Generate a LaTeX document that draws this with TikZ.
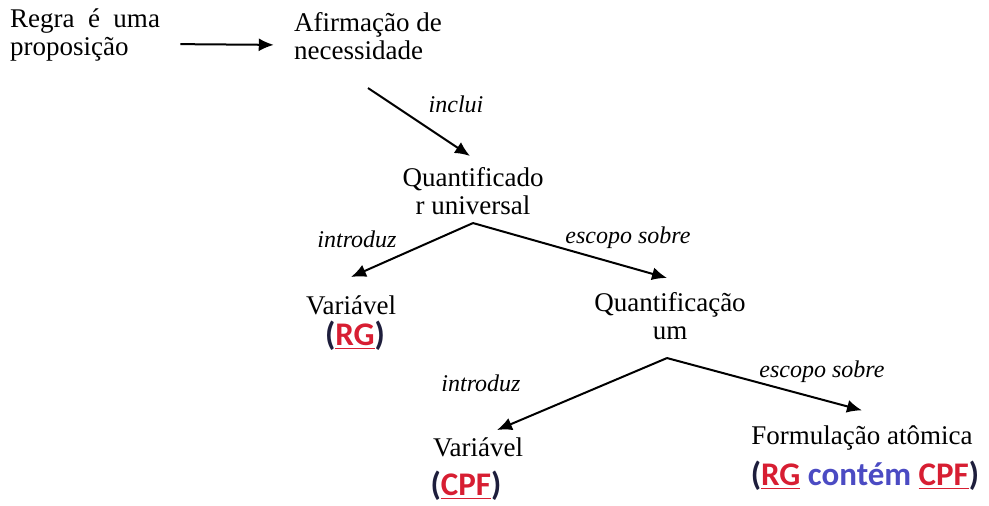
\documentclass[tikz,border=0pt]{standalone}
\usepackage{fontspec}
\setmainfont{Liberation Serif}
\newfontfamily\calib{Carlito}
\usepackage{xcolor}
\usetikzlibrary{arrows.meta}
\definecolor{rgred}{RGB}{215,30,50}
\definecolor{cblue}{RGB}{75,75,195}
\definecolor{pardark}{RGB}{30,30,60}
\newcommand{\redul}[1]{{\color{rgred}\underline{#1}}}
\tikzset{
  txt/.style={inner sep=2pt, font=\fontsize{13.5}{14}\selectfont},
  lbl/.style={inner sep=1pt, font=\fontsize{12}{13}\selectfont\itshape},
  tagtxt/.style={inner sep=1pt, font=\fontsize{16.5}{17}\selectfont\calib\bfseries, text=pardark},
  arr/.style={-{Latex[length=7.5pt,width=6.5pt]}, line width=1pt}
}
\begin{document}
\begin{tikzpicture}[x=0.5pt, y=-0.5pt]
    \useasboundingbox (0,0) rectangle (989,505);

    \node[txt, align=left] (regra) at (85,35) {Regra\enspace é\enspace uma\\proposição};
    \node[txt, align=left] (afirm) at (368,36) {Afirmação de\\necessidade};
    \node[txt, align=center] (quant) at (473,191) {Quantificado\\r universal};

    \node[txt] (var1) at (351,305) {Variável};
    \node[tagtxt] (var1tag) at (355,336) {(\redul{RG})};

    \node[txt, align=center] (quant2) at (670,316) {Quantificação\\um};

    \node[txt] (var2) at (478,447) {Variável};
    \node[tagtxt] (var2tag) at (466,486) {(\redul{CPF})};

    \node[txt] (form) at (862,438) {Formulação atômica};
    \node[tagtxt] (formtag) at (865,476) {(\redul{RG} {\color{cblue}contém} \redul{CPF})};

    % rotulos
    \node[lbl] (l1) at (456,104) {inclui};
    \node[lbl] (l2) at (357,239) {introduz};
    \node[lbl] (l3) at (628,238) {escopo sobre};
    \node[lbl] (l4) at (481,383) {introduz};
    \node[lbl] (l5) at (822,372) {escopo sobre};

    % setas
    \draw[arr, shorten <=8pt, shorten >=8pt] ([yshift=-4.5pt]regra.east) -- ([yshift=-4.5pt]afirm.west);
    \draw[arr] ([yshift=-12pt]afirm.south) -- ([xshift=-1.5pt,yshift=3.5pt]quant.north);
    \draw[arr] ([yshift=-2pt]quant.south) -- ([yshift=7pt]var1.north);
    \draw[arr] ([yshift=-2pt]quant.south) -- ([xshift=-1.5pt,yshift=5pt]quant2.north);
    \draw[arr] ([xshift=-1.5pt,yshift=-7pt]quant2.south) -- ([xshift=9.5pt,yshift=1.5pt]var2.north);
    \draw[arr] ([xshift=-1.5pt,yshift=-7pt]quant2.south) -- ([yshift=5.5pt]form.north);
\end{tikzpicture}
\end{document}
